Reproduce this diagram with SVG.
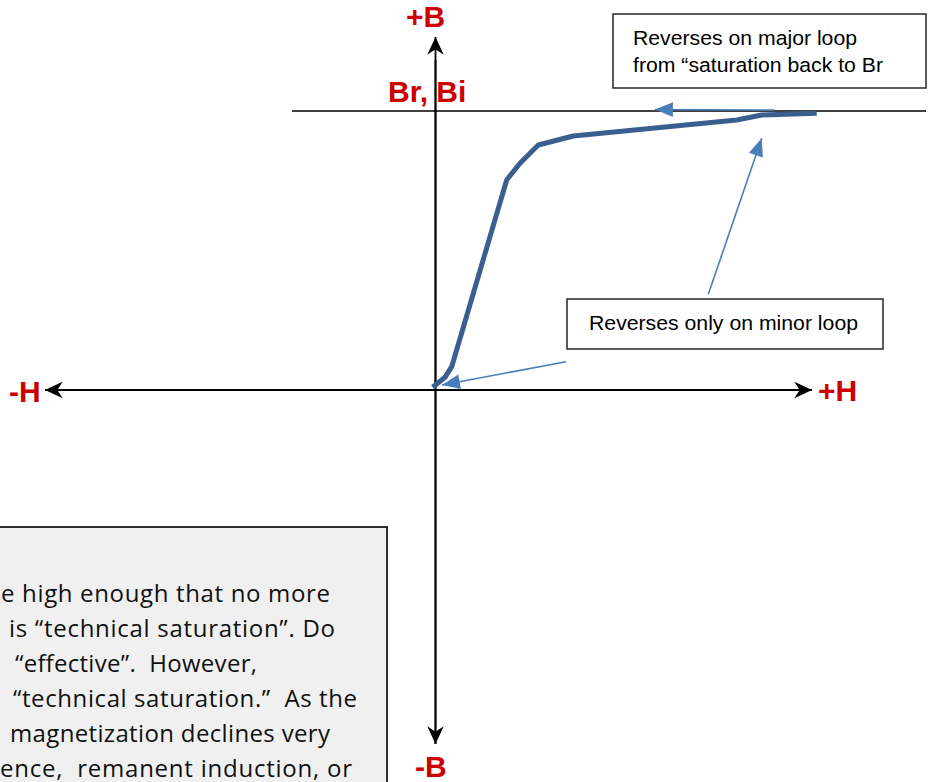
<svg xmlns="http://www.w3.org/2000/svg" width="935" height="782" viewBox="0 0 935 782">
<style>
.lbl{font-family:"Liberation Sans",Arial,sans-serif;font-weight:bold;font-size:30px;fill:#CC0000}
.box{fill:#ffffff;stroke:#262626;stroke-width:1.5}
.btxt{font-family:"Liberation Sans",Arial,sans-serif;font-size:19.5px;fill:#000000}
.note{font-family:"Open Sans","Liberation Sans",sans-serif;font-size:24px;fill:#111111;white-space:pre}
.axis{stroke:#000000;stroke-width:1.8;fill:none}
.conn{stroke:#4A7EBB;stroke-width:1.6;fill:none}
</style>
<defs>
<marker id="stealth" markerUnits="userSpaceOnUse" markerWidth="20" markerHeight="20" viewBox="-16 -8 17 16" refX="0" refY="0" orient="auto">
<path d="M0,0 L-15,-7 L-10.5,0 L-15,7 Z" fill="#000000"/>
</marker>
<marker id="blueHead" markerUnits="userSpaceOnUse" markerWidth="20" markerHeight="20" viewBox="-18 -8 19 16" refX="0" refY="0" orient="auto">
<path d="M0,0 L-17,-7 L-17,7 Z" fill="#4A7EBB"/>
</marker>
</defs>

<g id="note-box">
<rect x="-10" y="527" width="397" height="300" fill="#F0F0F0" stroke="#1a1a1a" stroke-width="1.8"/>
<text class="note" x="1" y="602" textLength="329" lengthAdjust="spacing">e high enough that no more</text>
<text class="note" x="9" y="637" textLength="326" lengthAdjust="spacing">is “technical saturation”. Do</text>
<text class="note" x="15" y="672" textLength="242" lengthAdjust="spacing">“effective”.  However,</text>
<text class="note" x="13" y="707" textLength="344" lengthAdjust="spacing">“technical saturation.”  As the</text>
<text class="note" x="10" y="742" textLength="320" lengthAdjust="spacing">magnetization declines very</text>
<text class="note" x="0" y="777" textLength="352" lengthAdjust="spacing">ence,  remanent induction, or</text>
</g>

<g id="axes">
<line class="axis" x1="435.5" y1="744" x2="435.5" y2="37" marker-end="url(#stealth)"/>
<line class="axis" x1="435.5" y1="60" x2="435.5" y2="744" marker-end="url(#stealth)"/>
<line class="axis" x1="430" y1="390" x2="812" y2="390" marker-end="url(#stealth)"/>
<line class="axis" x1="440" y1="390" x2="45" y2="390" marker-end="url(#stealth)"/>
</g>

<g id="br-line">
<line x1="292" y1="111" x2="926" y2="111" stroke="#000000" stroke-width="1.5"/>
</g>

<g id="curve">
<polyline points="432.7,387.3 445,377.3 451.7,366.7 506.7,180 520,163.3 538.3,145 573.3,136 736.7,120 761.7,115 816.7,113.3" fill="none" stroke="#3A5F8F" stroke-width="5" stroke-linejoin="round"/>
</g>

<g id="connectors">
<line class="conn" x1="775" y1="110" x2="655" y2="109.5" marker-end="url(#blueHead)"/>
<line class="conn" x1="708.3" y1="294.3" x2="761.7" y2="138.3" marker-end="url(#blueHead)"/>
<line class="conn" x1="566" y1="361.7" x2="442" y2="385" marker-end="url(#blueHead)"/>
</g>

<g id="major-loop-box">
<rect class="box" x="613" y="14" width="313" height="74"/>
<text class="btxt" x="633" y="45" textLength="224" lengthAdjust="spacingAndGlyphs">Reverses on major loop</text>
<text class="btxt" x="633" y="72" textLength="250" lengthAdjust="spacingAndGlyphs">from “saturation back to Br</text>
</g>

<g id="minor-loop-box">
<rect class="box" x="567" y="299" width="316" height="50"/>
<text class="btxt" x="589" y="330" textLength="269" lengthAdjust="spacingAndGlyphs">Reverses only on minor loop</text>
</g>

<g id="label-plusB"><text class="lbl" x="406" y="27">+B</text></g>
<g id="label-BrBi"><text class="lbl" x="388" y="102">Br, Bi</text></g>
<g id="label-minusH"><text class="lbl" x="9" y="402">-H</text></g>
<g id="label-plusH"><text class="lbl" x="818" y="401">+H</text></g>
<g id="label-minusB"><text class="lbl" x="415" y="777">-B</text></g>
</svg>
